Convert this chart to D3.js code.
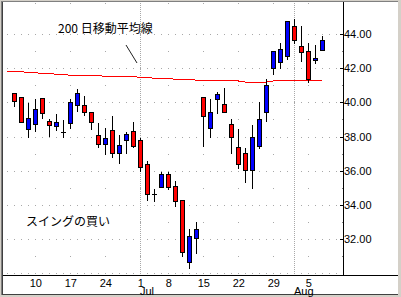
<!DOCTYPE html>
<html><head><meta charset="utf-8">
<script src="https://cdn.jsdelivr.net/npm/d3@7/dist/d3.min.js"></script>
<style>html,body{margin:0;padding:0;background:#d4d0c8;overflow:hidden}</style>
</head><body><svg id="c" width="401" height="297"></svg>
<script>
// ---- data (2002, daily) ----
const dates = ["2002-06-05","2002-06-06","2002-06-07","2002-06-10","2002-06-11","2002-06-12","2002-06-13","2002-06-14",
"2002-06-17","2002-06-18","2002-06-19","2002-06-20","2002-06-21","2002-06-24","2002-06-25","2002-06-26","2002-06-27","2002-06-28",
"2002-07-01","2002-07-02","2002-07-03","2002-07-05","2002-07-08","2002-07-09","2002-07-10","2002-07-11","2002-07-12",
"2002-07-15","2002-07-16","2002-07-17","2002-07-18","2002-07-19","2002-07-22","2002-07-23","2002-07-24","2002-07-25","2002-07-26",
"2002-07-29","2002-07-30","2002-07-31","2002-08-01","2002-08-02","2002-08-05","2002-08-06","2002-08-07"];
const open  = [40.53,40.29,38.42,38.71,40.24,38.89,38.60,38.28,38.77,39.83,39.83,39.42,38.09,37.54,38.38,37.02,37.78,38.32,37.79,36.37,34.61,35.06,35.79,35.08,34.26,30.67,32.04,40.33,38.51,40.18,39.88,38.71,37.38,37.03,36.02,37.46,39.42,41.99,42.38,42.73,44.47,43.28,43.00,42.46,43.08];
const high  = [40.55,40.29,39.94,40.19,40.24,39.02,39.32,38.96,40.19,40.76,40.37,39.42,38.77,38.48,39.20,38.09,38.28,38.87,37.91,36.56,34.93,35.90,35.94,35.39,34.26,32.58,32.98,40.33,40.19,40.59,40.82,39.02,38.44,37.33,38.67,40.00,41.37,43.00,43.49,44.76,44.88,44.49,43.49,43.36,43.87];
const low   = [39.80,38.85,37.99,38.34,39.10,38.03,38.38,37.95,38.48,39.51,39.26,38.44,37.40,36.97,36.78,36.47,37.05,37.38,36.00,34.28,34.24,35.02,34.91,33.95,31.02,30.32,31.20,37.46,37.99,39.39,39.45,37.05,36.14,35.35,34.97,37.31,38.92,41.64,42.03,42.55,43.49,42.44,41.21,42.32,43.08];
const close = [40.09,38.87,39.06,39.59,39.36,38.65,38.83,38.28,40.00,40.53,39.45,38.87,37.54,37.89,37.02,37.48,38.15,37.47,36.20,34.63,34.61,35.79,35.06,34.20,31.25,32.16,32.58,39.22,39.42,40.47,39.45,37.99,36.37,36.02,37.97,39.02,41.01,43.00,43.10,44.76,43.67,42.96,41.38,42.58,43.63];
// 200-day moving average (starts one session earlier, 2002-06-04)
const maDates = ["2002-06-04"].concat(dates);
const ma200 = [41.83,41.83,41.78,41.77,41.72,41.71,41.70,41.64,41.63,41.58,41.58,41.57,41.57,41.56,41.52,41.52,41.51,41.51,41.51,41.46,41.45,41.41,41.40,41.40,41.35,41.34,41.34,41.30,41.29,41.29,41.29,41.29,41.25,41.25,41.19,41.19,41.19,41.19,41.25,41.25,41.25,41.25,41.25,41.25,41.25,41.29];
const weekTickDates  = ["2002-06-10","2002-06-17","2002-06-24","2002-07-01","2002-07-08","2002-07-15","2002-07-22","2002-07-29","2002-08-05"];
const weekTickLabels = ["10","17","24","1","8","15","22","29","5"];
const monthDates  = ["2002-07-01","2002-08-01"];
const monthLabels = ["Jul","Aug"];
const priceTicks = [32,34,36,38,40,42,44];
const maLabel = "200 日移動平均線";
const swingLabel = "スイングの買い";

// ---- layout ----
const svg = d3.select("#c");
const idx = d => dates.indexOf(d);
const x = d3.scaleLinear().domain([-1.5, 47]).range([3.8, 343.3]);
const y = d3.scaleLinear().domain([32, 44]).range([239, 34]);
const px = v => Math.round(v);
const AX = 343, BY = 275;
const GRID = "#a8a8a8";

// frame
svg.append("rect").attr("x",0).attr("y",0).attr("width",401).attr("height",297).attr("fill","#d4d0c8");
svg.append("rect").attr("x",1).attr("y",1).attr("width",397).attr("height",294).attr("fill","#808080");
svg.append("rect").attr("x",2).attr("y",2).attr("width",396).attr("height",293).attr("fill","#404040");
svg.append("rect").attr("x",3).attr("y",2).attr("width",395).attr("height",292).attr("fill","#fff");

const g = svg.append("g").attr("shape-rendering","crispEdges");

// grid dots: even dollar rows at every session slot
const slots = d3.range(-1, 47);
const evenRows = d3.range(30, 45, 2), oddRows = d3.range(31, 44, 2);
const dots = [];
evenRows.forEach(v => slots.forEach(i => dots.push([px(x(i)), px(y(v))])));
// weekly columns (Mondays) at odd rows and at the top
const mondays = dates.map((d,i)=>[d,i]).filter(([d])=>new Date(d+"T12:00:00").getDay()===1).map(([d,i])=>i);
mondays.forEach(i => { oddRows.forEach(v => dots.push([px(x(i)), px(y(v))])); dots.push([px(x(i)), 3]); });
g.selectAll("rect.dot").data(dots).join("rect").attr("class","dot")
  .attr("x",d=>d[0]).attr("y",d=>d[1]).attr("width",1).attr("height",1).attr("fill",GRID);

// month separators
g.selectAll("line.month").data(monthDates).join("line").attr("class","month")
  .attr("x1",d=>px(x(idx(d)))+0.5).attr("x2",d=>px(x(idx(d)))+0.5)
  .attr("y1",3).attr("y2",BY).attr("stroke",GRID).attr("stroke-dasharray","1,1");

// moving average
const maLine = d3.line().x((d,i)=>x(i-1)).y(d=>y(d));
g.append("path").datum(ma200).attr("d",maLine).attr("fill","none").attr("stroke","#ff0000").attr("stroke-width",1);

// candles
const candles = dates.map((d,i)=>({i, o:open[i], h:high[i], l:low[i], c:close[i]}));
const cg = g.selectAll("g.cd").data(candles).join("g").attr("class","cd");
cg.append("line")
  .attr("x1",d=>px(x(d.i))+0.5).attr("x2",d=>px(x(d.i))+0.5)
  .attr("y1",d=>px(y(d.h))).attr("y2",d=>px(y(d.l))+1).attr("stroke","#000");
cg.filter(d=>Math.abs(d.o-d.c)>=0.03).append("rect")
  .attr("x",d=>px(x(d.i))-2+0.5).attr("width",4)
  .attr("y",d=>px(y(Math.max(d.o,d.c)))+0.5)
  .attr("height",d=>Math.max(1, px(y(Math.min(d.o,d.c)))-px(y(Math.max(d.o,d.c)))))
  .attr("fill",d=>d.c>d.o?"#0000ff":"#ff0000").attr("stroke","#000").attr("stroke-width",1);
cg.filter(d=>Math.abs(d.o-d.c)<0.03).append("line")
  .attr("x1",d=>px(x(d.i))-2).attr("x2",d=>px(x(d.i))+3)
  .attr("y1",d=>px(y(d.o))+0.5).attr("y2",d=>px(y(d.o))+0.5).attr("stroke","#000");

// axes lines
g.append("line").attr("x1",AX+0.5).attr("x2",AX+0.5).attr("y1",2).attr("y2",BY+1).attr("stroke","#000");
g.append("line").attr("x1",3).attr("x2",398).attr("y1",BY+0.5).attr("y2",BY+0.5).attr("stroke","#000");

// y axis (right)
const yAxis = d3.axisRight(y).tickValues(priceTicks).tickFormat(d3.format(".2f")).tickSize(-3).tickPadding(1);
const ya = svg.append("g").attr("transform",`translate(${AX},0)`).call(yAxis);
ya.select(".domain").remove();
ya.selectAll(".tick line").attr("stroke","#000").attr("shape-rendering","crispEdges");
ya.selectAll(".tick text").attr("font-family","'Liberation Sans', Arial, sans-serif").attr("font-size","11px").attr("fill","#000");
// minor ticks
g.selectAll("rect.minor").data(d3.range(31,45,2)).join("rect").attr("class","minor")
  .attr("x",AX-1).attr("y",d=>px(y(d))).attr("width",1).attr("height",1).attr("fill","#808080");

// x labels
const font = "'Liberation Sans', Arial, sans-serif";
svg.selectAll("text.wk").data(weekTickDates).join("text").attr("class","wk")
  .attr("x",d=>x(idx(d))+0.5).attr("y",286.5).attr("text-anchor","middle")
  .attr("font-family",font).attr("font-size","11px").text((d,i)=>weekTickLabels[i]);
svg.selectAll("text.mo").data(monthDates).join("text").attr("class","mo")
  .attr("x",d=>px(x(idx(d)))).attr("y",295).attr("text-anchor","start")
  .attr("font-family",font).attr("font-size","11px").text((d,i)=>monthLabels[i]);

// annotations
const jp = "'Noto Sans CJK JP', sans-serif";
svg.append("text").attr("x",58).attr("y",32.5).attr("font-family",jp).attr("font-size","12px").attr("fill","#000").text(maLabel);
svg.append("line").attr("x1",126).attr("y1",45).attr("x2",137).attr("y2",63).attr("stroke","#202020").attr("stroke-width",1);
svg.append("text").attr("x",26).attr("y",226).attr("font-family",jp).attr("font-size","12px").attr("fill","#000").text(swingLabel);
</script>
</body></html>
